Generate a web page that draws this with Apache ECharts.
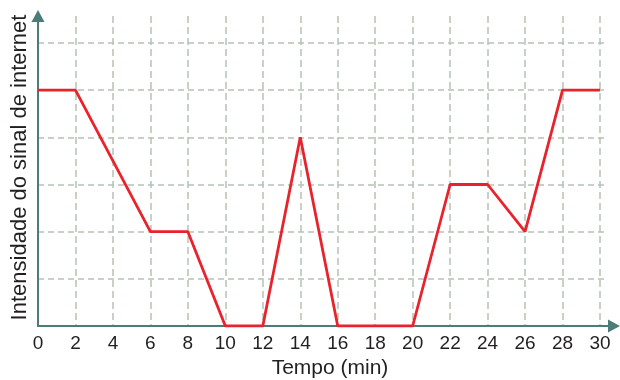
<!DOCTYPE html>
<html>
<head>
<meta charset="utf-8">
<script src="https://cdn.jsdelivr.net/npm/echarts@6/dist/echarts.min.js"></script>
<style>html,body{margin:0;padding:0;background:#fff}#c{width:620px;height:380px}</style>
</head>
<body>
<div id="c"></div>
<script>
const times = [0, 2, 6, 8, 10, 12, 14, 16, 20, 22, 24, 26, 28, 30];
const signal = [5, 5, 2, 2, 0, 0, 4, 0, 0, 3, 3, 2, 5, 5];
const xTitle = 'Tempo (min)';
const yTitle = 'Intensidade do sinal de internet';

const font = 'Liberation Sans, Arial, sans-serif';
const txt = '#231f20';
const axisCol = '#4d7b77';
const gridCol = '#b5c2b6';

const chart = echarts.init(document.getElementById('c'), null, {renderer: 'canvas'});
chart.setOption({
  animation: false,
  backgroundColor: '#fff',
  grid: [
    {left: 38, right: 20, top: 43, bottom: 54, outerBoundsMode: 'none', containLabel: false},
    {left: 38, right: 6, top: 16, bottom: 54, outerBoundsMode: 'none', containLabel: false},
    {left: 38, right: 14, top: 43, bottom: 54, outerBoundsMode: 'none', containLabel: false}
  ],
  xAxis: [
    {
      gridIndex: 0, type: 'value', min: 0, max: 30, interval: 2,
      axisLine: {show: false}, axisTick: {show: false}, splitLine: {show: false},
      axisLabel: {color: txt, fontSize: 19, fontFamily: font, margin: 8},
      name: xTitle, nameLocation: 'middle', nameGap: 23,
      nameTextStyle: {color: txt, fontSize: 21, fontFamily: font, padding: [0, 0, 0, 22]}
    },
    {
      gridIndex: 1, type: 'value', min: 0, max: 30.747, interval: 2,
      axisLine: {show: true, lineStyle: {color: axisCol, width: 2}, symbol: ['none', 'triangle'], symbolSize: [13, 12]},
      axisTick: {show: false}, axisLabel: {show: false},
      splitLine: {show: true, showMinLine: false, showMaxLine: false, lineStyle: {color: gridCol, width: 1.5, type: [7, 4]}}
    },
    {
      gridIndex: 2, type: 'value', min: 0, max: 30, show: false
    }
  ],
  yAxis: [
    {
      gridIndex: 0, type: 'value', min: 0, max: 6, interval: 1, show: false
    },
    {
      gridIndex: 1, type: 'value', min: 0, max: 6.572, interval: 1,
      axisLine: {show: true, lineStyle: {color: axisCol, width: 2}, symbol: ['none', 'triangle'], symbolSize: [13, 12]},
      axisTick: {show: false}, axisLabel: {show: false}, splitLine: {show: false},
      name: yTitle, nameLocation: 'middle', nameGap: 7,
      nameTextStyle: {color: txt, fontSize: 22, fontFamily: font, padding: [0, 0, 0, 7]}
    },
    {
      gridIndex: 2, type: 'value', min: 0, max: 6, interval: 1,
      axisLine: {show: false}, axisTick: {show: false}, axisLabel: {show: false},
      splitLine: {show: true, showMinLine: false, lineStyle: {color: gridCol, width: 1.5, type: [6, 4]}}
    }
  ],
  series: [{
    type: 'line', xAxisIndex: 0, yAxisIndex: 0,
    data: times.map((t, i) => [t, signal[i]]),
    symbol: 'none', z: 10,
    lineStyle: {color: '#e8232b', width: 2.8}
  }]
});
</script>
</body>
</html>
